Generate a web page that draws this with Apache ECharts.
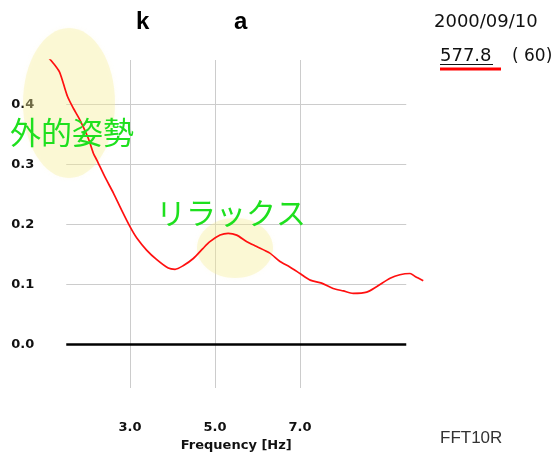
<!DOCTYPE html>
<html>
<head>
<meta charset="utf-8">
<script src="https://cdn.jsdelivr.net/npm/echarts@6/dist/echarts.min.js"></script>
<style>
  html, body { margin: 0; padding: 0; background: #ffffff; }
  #chart { width: 554px; height: 452px; }
</style>
</head>
<body>
<div id="chart"></div>
<script>
// FFT spectrum: frequency (Hz) and amplitude
const freqHz = [1.02, 1.20, 1.34, 1.43, 1.53, 1.67, 1.82, 2.02, 2.14, 2.22, 2.41, 2.61, 2.80, 3.00,
  3.16, 3.39, 3.63, 3.90, 4.06, 4.25, 4.49, 4.72, 4.88, 5.12, 5.31, 5.51, 5.75, 5.98, 6.29, 6.53,
  6.76, 7.00, 7.24, 7.51, 7.78, 8.02, 8.25, 8.57, 8.80, 9.12, 9.35, 9.59, 9.71, 9.90];
const amplitude = [0.483, 0.468, 0.454, 0.435, 0.413, 0.393, 0.374, 0.343, 0.318, 0.307, 0.279, 0.252, 0.224, 0.196,
  0.177, 0.157, 0.141, 0.127, 0.125, 0.131, 0.143, 0.160, 0.171, 0.182, 0.185, 0.182, 0.171, 0.163, 0.152, 0.138,
  0.129, 0.118, 0.107, 0.102, 0.093, 0.089, 0.085, 0.087, 0.096, 0.110, 0.116, 0.118, 0.113, 0.106];

const xTicks = [3, 5, 7];
const yTicks = [0, 0.1, 0.2, 0.3, 0.4];
const xAxisName = 'Frequency [Hz]';
const headerMarks = ['k', 'a'];
const dateText = '2000/09/10';
const valueText = '577.8';
const countText = '( 60)';
const footerText = 'FFT10R';
const noteOuter = '外的姿勢';
const noteRelax = 'リラックス';

const seriesData = freqHz.map((f, i) => [f, amplitude[i]]);

// Axis ranges: the gridded plot box and the wider band the spectrum runs over
const boxX = [1.5, 9.5];
const spanX = [1.0, 10.0];
const rangeY = [-0.0728, 0.4738];
const pxPerHz = 42.5;
const boxLeft = 66.25;

const gridLineStyle = { color: '#cccccc', width: 1, type: 'solid' };
const markLineData = []
  .concat(yTicks.filter(v => v !== 0).map(v => ({ yAxis: v, lineStyle: gridLineStyle })))
  .concat(xTicks.map(v => ({ xAxis: v, lineStyle: gridLineStyle })))
  .concat([{ yAxis: 0, lineStyle: { color: '#000000', width: 2.5, type: 'solid' } }]);

const labelFont = { fontFamily: 'DejaVu Sans', fontWeight: 'bold', fontSize: 13, color: '#111111' };

// soft highlight behind the annotated regions
const highlightStyle = {
  fill: 'rgba(246,236,150,0.34)',
  shadowBlur: 5,
  shadowColor: 'rgba(246,236,150,0.3)'
};

const chart = echarts.init(document.getElementById('chart'), null, { renderer: 'canvas' });
chart.setOption({
  animation: false,
  backgroundColor: '#ffffff',
  grid: [
    { left: boxLeft, top: 60, width: (boxX[1] - boxX[0]) * pxPerHz, height: 328, outerBoundsMode: 'none' },
    { left: boxLeft - (boxX[0] - spanX[0]) * pxPerHz, top: 60, width: (spanX[1] - spanX[0]) * pxPerHz, height: 328, outerBoundsMode: 'none' }
  ],
  xAxis: [{
    gridIndex: 0, type: 'value', min: boxX[0], max: boxX[1],
    axisLine: { show: false }, axisTick: { show: false }, splitLine: { show: false },
    axisLabel: Object.assign({ customValues: xTicks, margin: 33, formatter: v => v.toFixed(1) }, labelFont),
    name: xAxisName, nameLocation: 'middle', nameGap: 43,
    nameTextStyle: { fontFamily: 'DejaVu Sans', fontWeight: 'bold', fontSize: 13, color: '#111111' }
  }, {
    gridIndex: 1, type: 'value', min: spanX[0], max: spanX[1], show: false
  }],
  yAxis: [{
    gridIndex: 0, type: 'value', min: rangeY[0], max: rangeY[1],
    axisLine: { show: false }, axisTick: { show: false }, splitLine: { show: false },
    axisLabel: Object.assign({ customValues: yTicks, margin: 55, align: 'left', formatter: v => v.toFixed(1) }, labelFont)
  }, {
    gridIndex: 1, type: 'value', min: rangeY[0], max: rangeY[1], show: false
  }],
  series: [{
    // frame lines: grid rules and the zero baseline
    type: 'line', xAxisIndex: 0, yAxisIndex: 0, data: [], silent: true,
    markLine: { silent: true, symbol: 'none', label: { show: false }, z: 1, data: markLineData }
  }, {
    type: 'line', xAxisIndex: 1, yAxisIndex: 1,
    data: seriesData,
    smooth: 0.25,
    showSymbol: false,
    z: 5,
    lineStyle: { color: '#ff1010', width: 1.7 }
  }],
  graphic: [
    { type: 'ellipse', shape: { cx: 69, cy: 103, rx: 46, ry: 75 }, style: highlightStyle, z: 3, silent: true },
    { type: 'ellipse', shape: { cx: 235, cy: 248, rx: 38, ry: 30 }, style: highlightStyle, z: 3, silent: true },
    { type: 'text', left: 136, top: 10, z: 10, style: { text: headerMarks[0], font: 'bold 24px "Liberation Sans", Arial', fill: '#000' } },
    { type: 'text', left: 234, top: 10, z: 10, style: { text: headerMarks[1], font: 'bold 24px "Liberation Sans", Arial', fill: '#000' } },
    { type: 'text', left: 434, top: 13, z: 10, style: { text: dateText, font: '18px "DejaVu Sans", sans-serif', fill: '#111' } },
    { type: 'text', left: 440, top: 47, z: 10, style: { text: valueText, font: '18px "DejaVu Sans", sans-serif', fill: '#111' } },
    { type: 'rect', shape: { x: 440, y: 64, width: 53, height: 1 }, style: { fill: '#111' }, z: 10 },
    { type: 'rect', shape: { x: 440, y: 67.5, width: 61, height: 3 }, style: { fill: '#ff0000' }, z: 10 },
    { type: 'text', left: 512, top: 48, z: 10, style: { text: countText, font: '17px "DejaVu Sans", sans-serif', fill: '#111' } },
    { type: 'text', left: 440, top: 430, z: 10, style: { text: footerText, font: '17px "Liberation Sans", Arial', fill: '#333' } },
    { type: 'text', left: 10, top: 117, z: 10, style: { text: noteOuter, font: '31px "Noto Sans CJK JP"', fill: '#1ee01e' } },
    { type: 'text', left: 156, top: 198, z: 10, style: { text: noteRelax, font: '30px "Noto Sans CJK JP"', fill: '#1ee01e' } }
  ]
});
</script>
</body>
</html>
